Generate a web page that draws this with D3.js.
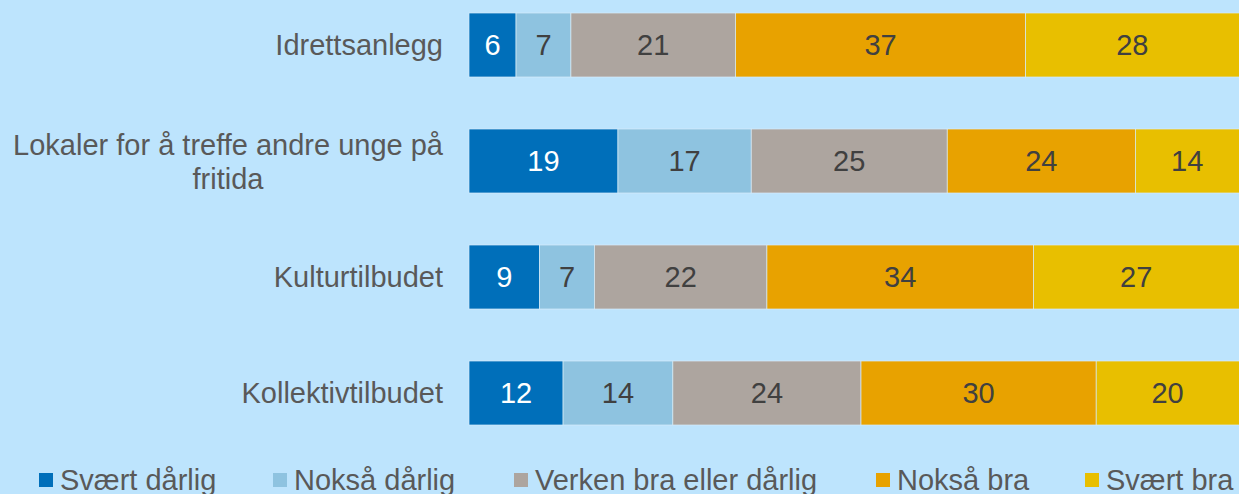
<!DOCTYPE html>
<html><head><meta charset="utf-8">
<script src="https://cdn.jsdelivr.net/npm/d3@7"></script>
<style>
html,body{margin:0;padding:0;background:#bde4fd;}
svg{display:block;font-family:"Liberation Sans",Arial,sans-serif;}
</style></head>
<body>
<svg id="c" width="1239" height="494"></svg>
<script>
const categories = ["Idrettsanlegg","Lokaler for å treffe andre unge på fritida","Kulturtilbudet","Kollektivtilbudet"];
const seriesNames = ["Svært dårlig","Nokså dårlig","Verken bra eller dårlig","Nokså bra","Svært bra"];
const svaertDarlig = [6,19,9,12];
const noksaDarlig = [7,17,7,14];
const verken = [21,25,22,24];
const noksaBra = [37,24,34,30];
const svaertBra = [28,14,27,20];
const seriesValues = [svaertDarlig,noksaDarlig,verken,noksaBra,svaertBra];
const colors = ["#006fba","#8ec3e0","#ada59f","#e8a200","#e8bf00"];
const labelColors = ["#ffffff","#404040","#404040","#404040","#404040"];

const W = 1239, H = 494;
const svg = d3.select("#c");
svg.append("rect").attr("width",W).attr("height",H).attr("fill","#bde4fd");

const x = d3.scaleLinear().domain([0,100]).range([469,1253]);
const y = d3.scaleBand().domain(categories).range([-13,451]).paddingInner(0.4483).paddingOuter(0.2241);

const rows = categories.map((c,i)=>{const o={cat:c}; seriesNames.forEach((s,j)=>o[s]=seriesValues[j][i]); return o;});
const stack = d3.stack().keys(seriesNames)(rows);

const FS = 29;
const g = svg.append("g");
stack.forEach((layer,j)=>{
  const lg = g.append("g");
  lg.selectAll("rect").data(layer).join("rect")
    .attr("x",d=>x(d[0])).attr("y",d=>y(d.data.cat))
    .attr("width",d=>x(d[1])-x(d[0])).attr("height",y.bandwidth())
    .attr("fill",colors[j]).attr("stroke","#d6ecf8").attr("stroke-width",0.7);
  lg.selectAll("text").data(layer).join("text")
    .attr("x",d=>(x(d[0])+Math.min(x(d[1]),W))/2)
    .attr("y",d=>y(d.data.cat)+y.bandwidth()/2)
    .attr("dy","0.36em").attr("text-anchor","middle")
    .attr("font-size",FS).attr("fill",labelColors[j])
    .text(d=>d[1]-d[0]);
});

// category labels
const cl = svg.append("g");
categories.forEach(c=>{
  const cy = y(c)+y.bandwidth()/2;
  if(c.startsWith("Lokaler")){
    const l1 = "Lokaler for å treffe andre unge på", l2 = "fritida";
    const t1 = cl.append("text").attr("x",443).attr("y",cy-16).attr("dy","0.36em")
      .attr("text-anchor","end").attr("font-size",FS).attr("fill","#595959").text(l1);
    const w = t1.node().getComputedTextLength();
    cl.append("text").attr("x",443-w/2).attr("y",cy+18).attr("dy","0.36em")
      .attr("text-anchor","middle").attr("font-size",FS).attr("fill","#595959").text(l2);
  } else {
    cl.append("text").attr("x",443).attr("y",cy).attr("dy","0.36em")
      .attr("text-anchor","end").attr("font-size",FS).attr("fill","#595959").text(c);
  }
});

// legend
const legX = [39,273,514,876,1085];
const leg = svg.append("g");
seriesNames.forEach((s,j)=>{
  leg.append("rect").attr("x",legX[j]).attr("y",473).attr("width",14).attr("height",14).attr("fill",colors[j]);
  leg.append("text").attr("x",legX[j]+21).attr("y",480).attr("dy","0.36em")
    .attr("font-size",FS).attr("fill","#595959").text(s);
});
</script>
</body></html>
